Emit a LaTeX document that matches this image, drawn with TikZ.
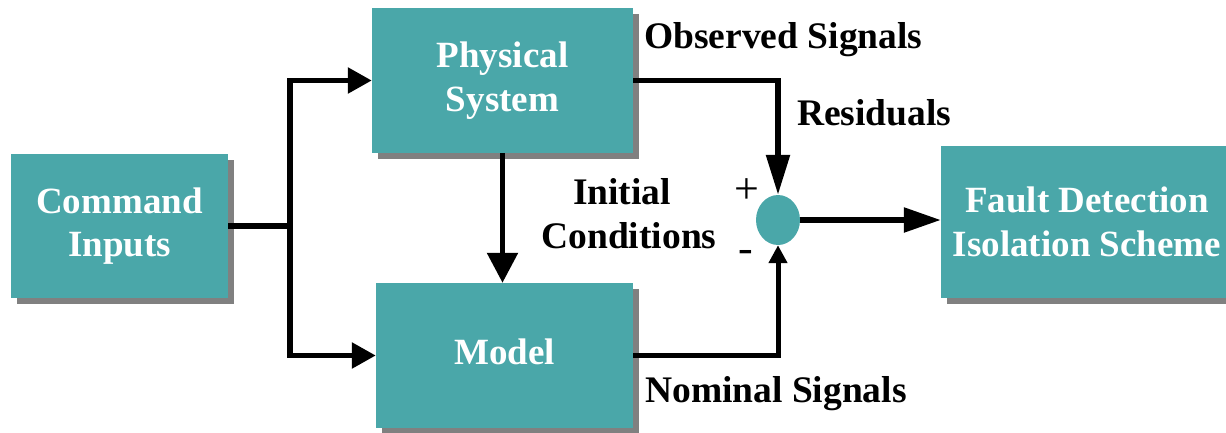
\documentclass[tikz,border=0pt]{standalone}
\usepackage{fontspec}
\setmainfont{Liberation Serif}
\usetikzlibrary{arrows.meta,shapes.geometric,shadows}
\definecolor{tealbox}{RGB}{74,167,169}
\definecolor{shadowgray}{RGB}{128,128,128}
\begin{document}
\begin{tikzpicture}[x=1pt,y=-1pt,
  blk/.style={rectangle,fill=tealbox,text=white,
    font=\bfseries\fontsize{37}{43.5}\selectfont,align=center,inner sep=0pt,
    drop shadow={shadow xshift=6pt,shadow yshift=-6pt,fill=shadowgray,opacity=1}},
  lbl/.style={font=\bfseries\fontsize{37.5}{43.5}\selectfont,inner sep=0pt},
  sgn/.style={font=\fontsize{44}{48}\selectfont,inner sep=0pt},
  wire/.style={line width=5.5pt},
  thinwire/.style={line width=5pt}]
\path[use as bounding box] (0,0) rectangle (1226,432);
\clip (0,0) rectangle (1226,432);

\node[blk,minimum width=217pt,minimum height=144pt] (cmd) at (119.5,226) {Command\\Inputs};
\node[blk,minimum width=261pt,minimum height=145pt] (phys) at (502.5,80.5) {Physical\\System};
\node[blk,minimum width=257pt,minimum height=145pt,text depth=8pt] (model) at (504.5,355.5) {Model};
\node[blk,minimum width=292pt,minimum height=152pt] (fault) at (1087,222) {Fault Detection\\Isolation Scheme};
\node[ellipse,fill=tealbox,minimum width=44pt,minimum height=50pt,inner sep=0pt] (sum) at (778,220) {};

\coordinate (j) at (290,226);
\draw[wire] (cmd.east) -- (j);
\draw[wire,-{Triangle[length=24pt,width=25pt]}] (j) |- (phys.west);
\draw[wire,-{Triangle[length=24pt,width=25pt]}] (j) |- (model.west);
\draw[wire,-{Triangle[length=30pt,width=30pt]}] (phys.south) -- (phys.south |- model.north);
\draw[wire,-{Triangle[length=40pt,width=23pt]}] (phys.east) -| (sum.north);
\draw[thinwire,-{Triangle[length=18pt,width=18pt]}] (model.east) -| (sum.south);
\draw[wire,-{Triangle[length=37pt,width=24pt]}] (sum.east) -- (sum.east -| fault.west);

\node[lbl,anchor=base west] (obs) at (644,48) {Observed Signals};
\node[lbl,anchor=base west] (res) at (797,125) {Residuals};
\node[lbl,anchor=base] (ini) at (622,204) {Initial};
\node[lbl,anchor=base] (cond) at (629,248) {Conditions};
\node[lbl,anchor=base west] (nom) at (645,402) {Nominal Signals};
\node[sgn] (plus) at (747,191) {+};
\node[sgn] (minus) at (746,256) {-};
\end{tikzpicture}
\end{document}
